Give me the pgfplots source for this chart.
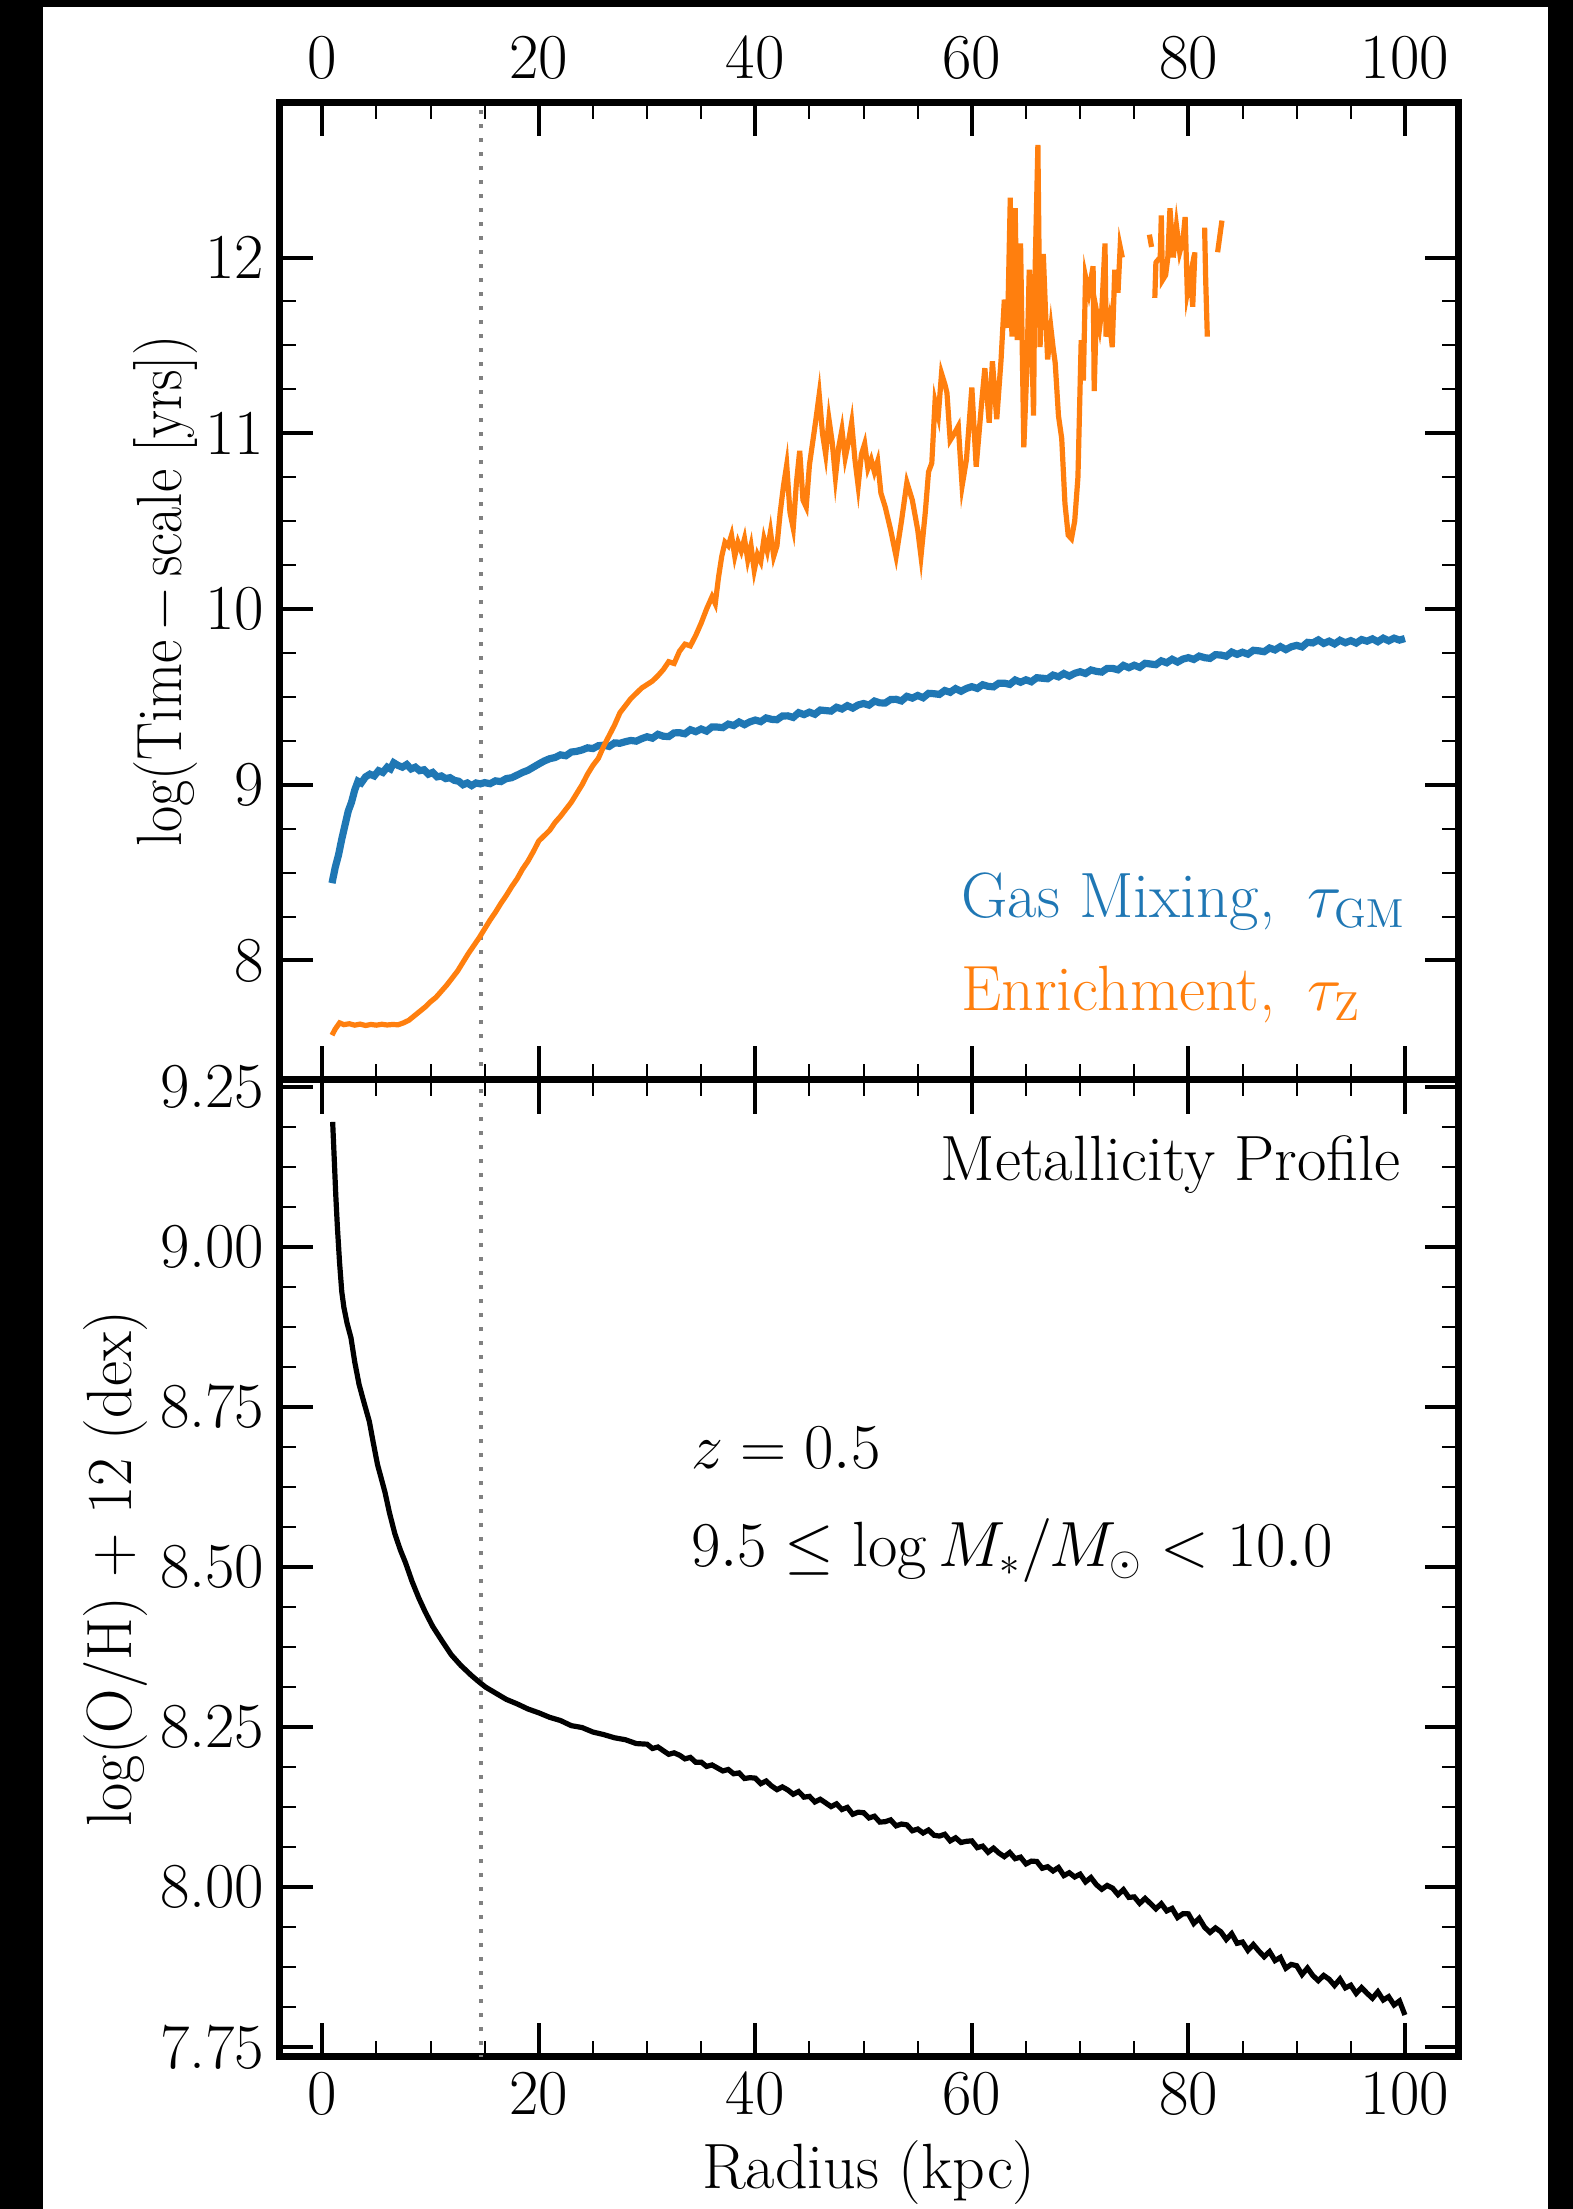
\documentclass[border=0pt]{standalone}
\usepackage{graphicx}
\usepackage{pgfplots}
\pgfplotsset{compat=1.18}
\definecolor{mplblue}{RGB}{31,119,180}
\definecolor{mplorange}{RGB}{255,127,14}

\pgfplotsset{
  panel/.style={
    scale only axis, width=294.75pt,
    xmin=-3.95, xmax=104.95,
    xtick={0,20,40,60,80,100}, minor x tick num=3,
    tick align=inside, xtick pos=both, ytick pos=both,
    major tick length=8.5pt, minor tick length=4.1pt,
    every major tick/.append style={line width=1pt, black},
    every minor tick/.append style={line width=0.5pt, black},
    axis line style={line width=1.75pt},
    font=\fontsize{16}{19.2}\selectfont,
    /pgf/number format/assume math mode=true,
    yticklabel style={inner sep=0pt, xshift=-3.6pt},
    unbounded coords=jump,
  },
  rline/.style={gray, line width=1pt, dash pattern=on 1pt off 2.5pt},
}

\begin{document}
\begin{tikzpicture}
% page background
\fill[black] (0,0) rectangle (393.25pt,552.25pt);
\fill[white] (10.75pt,0) rectangle (387pt,550.5pt);

% ---------------- time-scales ----------------
\begin{axis}[panel, at={(69.875pt,282.25pt)}, anchor=south west, height=244.375pt,
  ymin=7.32, ymax=12.882, ytick={8,9,10,11,12}, minor y tick num=3,
  xticklabel pos=upper, xticklabel style={inner sep=0pt, yshift=5.6pt},
  ylabel={\scalebox{0.89}[1]{log(Time\hspace{0.2em}−\hspace{0.2em}scale [yrs])}},
  every axis y label/.style={at={(axis description cs:-0.0963,0.5)}, rotate=90, anchor=center},
]
\addplot[rline] coordinates {(14.7,7.0) (14.7,13.2)};

% gas mixing time-scale
\addplot[mplblue, line width=1.8pt] coordinates {
(0.9,8.44)(1.2,8.53)(1.5,8.60)(1.8,8.69)(2.1,8.77)(2.4,8.85)(2.7,8.90)(3.0,8.97)(3.3,9.02)(3.6,9.01)
(4.0,9.045)(4.4,9.06)(4.8,9.05)(5.2,9.08)(5.6,9.07)(6.0,9.10)(6.3,9.09)(6.6,9.125)(7.0,9.11)(7.4,9.10)
(7.8,9.115)(8.2,9.09)(8.6,9.10)(9.0,9.08)(9.4,9.085)(9.8,9.06)(10.2,9.07)(10.6,9.045)(11.0,9.05)(11.4,9.035)
(11.8,9.04)(12.2,9.025)(12.6,9.02)(13.0,9.0)(13.4,9.01)(13.8,8.995)(14.2,9.01)(14.6,9.005)
(15.0,9.012)(15.5,9.006)(16.0,9.022)(16.5,9.018)(17.0,9.035)(17.5,9.04)(18.0,9.055)(18.5,9.07)(19.0,9.082)(19.5,9.10)
(20.0,9.118)(20.5,9.135)(21.0,9.148)(21.5,9.155)(22.0,9.17)(22.5,9.165)(23.0,9.186)(23.5,9.19)(24.0,9.198)(24.5,9.21)
(25.0,9.206)(25.5,9.222)(26.0,9.225)(26.5,9.218)(27.0,9.238)(27.5,9.236)(28.0,9.245)(28.5,9.252)(29.0,9.248)(29.5,9.262)
(30.0,9.273)(30.5,9.265)(31.0,9.287)(31.5,9.276)(32.0,9.274)(32.5,9.295)(33.0,9.296)(33.5,9.290)(34.0,9.313)(34.5,9.302)
(35.0,9.317)(35.5,9.305)(36.0,9.329)(36.5,9.328)(37.0,9.325)(37.5,9.345)(38.0,9.337)(38.5,9.357)(39.0,9.342)(39.5,9.358)
(40.0,9.368)(40.5,9.359)(41.0,9.380)(41.5,9.372)(42.0,9.370)(42.5,9.391)(43.0,9.392)(43.5,9.383)(44.0,9.410)(44.5,9.399)
(45.0,9.413)(45.5,9.401)(46.0,9.425)(46.5,9.422)(47.0,9.419)(47.5,9.441)(48.0,9.431)(48.5,9.450)(49.0,9.436)(49.5,9.454)
(50.0,9.462)(50.5,9.453)(51.0,9.476)(51.5,9.466)(52.0,9.465)(52.5,9.485)(53.0,9.486)(53.5,9.477)(54.0,9.503)(54.5,9.493)
(55.0,9.508)(55.5,9.495)(56.0,9.520)(56.5,9.518)(57.0,9.514)(57.5,9.536)(58.0,9.526)(58.5,9.547)(59.0,9.532)(59.5,9.548)
(60.0,9.558)(60.5,9.548)(61.0,9.569)(61.5,9.560)(62.0,9.557)(62.5,9.578)(63.0,9.578)(63.5,9.571)(64.0,9.596)(64.5,9.583)
(65.0,9.597)(65.5,9.586)(66.0,9.609)(66.5,9.606)(67.0,9.603)(67.5,9.624)(68.0,9.614)(68.5,9.633)(69.0,9.618)(69.5,9.634)
(70.0,9.643)(70.5,9.633)(71.0,9.653)(71.5,9.645)(72.0,9.641)(72.5,9.662)(73.0,9.662)(73.5,9.654)(74.0,9.679)(74.5,9.666)
(75.0,9.680)(75.5,9.668)(76.0,9.691)(76.5,9.687)(77.0,9.683)(77.5,9.705)(78.0,9.694)(78.5,9.714)(79.0,9.698)(79.5,9.715)
(80.0,9.723)(80.5,9.713)(81.0,9.732)(81.5,9.723)(82.0,9.719)(82.5,9.740)(83.0,9.738)(83.5,9.731)(84.0,9.755)(84.5,9.742)
(85.0,9.754)(85.5,9.743)(86.0,9.765)(86.5,9.762)(87.0,9.757)(87.5,9.778)(88.0,9.767)(88.5,9.786)(89.0,9.769)(89.5,9.785)
(90.0,9.793)(90.5,9.784)(91.0,9.810)(91.5,9.807)(92.0,9.824)(92.5,9.804)(93.0,9.817)(93.5,9.801)(94.0,9.822)(94.5,9.808)
(95.0,9.820)(95.5,9.806)(96.0,9.826)(96.5,9.817)(97.0,9.830)(97.5,9.814)(98.0,9.834)(98.5,9.819)(99.0,9.834)(99.5,9.823)
(100.0,9.832)
};

% enrichment time-scale (gaps where undefined)
\addplot[mplorange, line width=1.3pt] coordinates {
(0.9,7.575)(1.2,7.61)(1.6,7.645)(2.0,7.635)(2.5,7.64)(3.0,7.632)(3.5,7.638)(4.0,7.63)(4.5,7.636)(5.0,7.632)
(5.5,7.637)(6.0,7.633)(6.5,7.636)(7.0,7.634)(7.5,7.645)(8.0,7.66)(8.5,7.685)(9.0,7.71)(9.5,7.735)(10.0,7.765)
(10.5,7.79)(11.0,7.825)(11.5,7.86)(12.0,7.90)(12.5,7.94)(13.0,7.99)(13.5,8.04)(14.0,8.085)(14.5,8.13)(15.0,8.18)
(15.5,8.23)(16.0,8.275)(16.5,8.325)(17.0,8.37)(17.5,8.42)(18.0,8.465)(18.5,8.52)(19.0,8.565)(19.5,8.62)(20.0,8.68)
(20.5,8.71)(21.0,8.74)(21.5,8.785)(22.0,8.82)(22.5,8.86)(23.0,8.90)(23.5,8.95)(24.0,9.00)(24.5,9.06)(25.0,9.11)
(25.5,9.15)(26.0,9.22)(26.5,9.28)(27.0,9.34)(27.5,9.41)(28.0,9.45)(28.5,9.49)(29.0,9.52)(29.5,9.55)(30.0,9.57)
(30.5,9.59)(31.0,9.62)(31.5,9.655)(32.0,9.70)(32.5,9.69)(33.0,9.76)(33.5,9.80)(34.0,9.79)(34.5,9.85)(35.0,9.92)
(35.5,10.0)(36.0,10.07)(36.3,10.03)(36.6,10.18)(36.9,10.30)(37.2,10.38)(37.5,10.36)(37.8,10.42)(38.1,10.30)(38.4,10.38)
(38.7,10.33)(39.0,10.40)(39.3,10.28)(39.6,10.36)(39.9,10.22)(40.2,10.31)(40.5,10.27)(40.8,10.40)(41.1,10.33)(41.4,10.44)
(41.7,10.30)(42.0,10.36)(42.3,10.55)(42.6,10.70)(42.9,10.82)(43.2,10.55)(43.5,10.46)(43.8,10.72)(44.1,10.90)(44.4,10.62)
(44.7,10.58)(45.0,10.82)(45.3,10.95)(45.6,11.08)(45.9,11.22)(46.2,11.0)(46.5,10.88)(46.8,11.08)(47.1,10.95)(47.4,10.75)
(47.7,10.92)(48.0,11.02)(48.3,10.86)(48.6,10.95)(48.9,11.06)(49.2,10.85)(49.5,10.70)(49.8,10.88)(50.1,10.94)(50.4,10.80)
(50.7,10.85)(51.0,10.78)(51.3,10.84)(51.6,10.66)(52.0,10.58)(52.5,10.45)(53.0,10.30)(53.5,10.50)(54.0,10.72)(54.5,10.62)
(55.0,10.45)(55.3,10.30)(55.7,10.55)(56.0,10.78)(56.3,10.83)(56.6,11.18)(56.9,11.10)(57.2,11.34)(57.5,11.28)(57.7,11.23)
(58.0,10.96)(58.4,11.00)(58.75,11.04)(59.1,10.70)(59.5,10.85)(60.0,11.26)(60.4,10.81)(60.9,11.17)(61.2,11.37)(61.6,11.06)
(61.9,11.41)(62.3,11.08)(62.7,11.42)(63.0,11.76)(63.3,11.60)(63.55,12.34)(63.7,11.55)(64.0,12.28)(64.2,11.53)(64.5,12.08)
(64.8,10.92)(65.1,11.40)(65.3,11.93)(65.5,11.60)(65.7,11.10)(65.8,11.81)(66.1,12.64)(66.3,11.49)(66.6,12.02)(66.8,11.70)
(67.0,11.42)(67.3,11.60)(67.5,11.49)(67.7,11.40)(68.0,11.10)(68.3,10.97)(68.6,10.60)(68.9,10.42)(69.2,10.40)(69.5,10.50)
(69.8,10.75)(70.1,11.53)(70.3,11.30)(70.5,11.89)(70.8,11.80)(71.2,11.95)(71.3,11.24)(71.5,11.70)(71.8,11.60)(72.0,11.70)
(72.3,12.08)(72.4,11.55)(72.7,11.65)(72.97,11.49)(73.2,11.93)(73.5,11.80)(73.7,12.06)(73.9,12.00)
(75.0,nan)
(76.4,12.13)(76.6,12.06)
(76.75,nan)
(76.9,11.77)(77.0,11.97)(77.1,11.98)(77.4,12.0)(77.5,12.24)(77.6,11.87)(77.9,11.9)(78.1,12.0)(78.3,12.28)(78.6,12.0)
(78.9,12.18)(79.2,12.03)(79.5,12.1)(79.7,12.23)(79.9,11.80)(80.2,11.9)(80.4,11.72)(80.6,12.03)
(81.0,nan)
(81.5,12.17)(81.6,11.87)(81.75,11.55)
(82.2,nan)
(82.7,12.03)(83.1,12.21)
};

\node[anchor=base west, inner sep=0pt, text=mplblue] at (axis cs:58.96,8.242) {Gas Mixing,\enspace\scalebox{0.925}{$\tau_{\mathrm{GM}}$}};
\node[anchor=base west, inner sep=0pt, text=mplorange] at (axis cs:58.96,7.713) {Enrichment,\enspace\scalebox{0.925}{$\tau_{\mathrm{Z}}$}};
\end{axis}

% ---------------- metallicity profile ----------------
\begin{axis}[panel, at={(69.875pt,38pt)}, anchor=south west, height=244.25pt,
  ymin=7.7344, ymax=9.2605, ytick={7.75,8.00,8.25,8.50,8.75,9.00,9.25}, minor y tick num=3,
  xticklabel pos=lower, xticklabel style={inner sep=0pt, yshift=-3.5pt},
  xlabel={Radius (kpc)},
  every axis x label/.style={at={(axis description cs:0.5,-0.1342)}, anchor=base},
  ylabel={\scalebox{0.96}[1]{log(O/H) + 12 (dex)}},
  every axis y label/.style={at={(axis description cs:-0.1395,0.5)}, rotate=90, anchor=center},
  yticklabel style={/pgf/number format/.cd, fixed, fixed zerofill, precision=2},
]
\addplot[rline] coordinates {(14.7,7.6) (14.7,9.4)};

\addplot[black, line width=1.3pt] coordinates {
(0.96,9.195)(1.1,9.14)(1.25,9.08)(1.4,9.03)(1.6,8.975)(1.8,8.93)(2.0,8.905)(2.3,8.88)(2.65,8.858)(3.0,8.82)
(3.4,8.785)(3.8,8.76)(4.35,8.727)(4.7,8.695)(5.1,8.66)(5.5,8.635)(5.8,8.616)(6.2,8.585)(6.7,8.552)(7.2,8.527)
(7.7,8.506)(8.3,8.477)(8.9,8.452)(9.5,8.43)(10.2,8.407)(11.0,8.386)(11.9,8.363)(12.8,8.346)(13.8,8.33)(14.5,8.32)
(15.1,8.312)(16,8.303)(17,8.293)(18,8.286)(19,8.278)(20,8.272)(21,8.265)(22,8.26)(23,8.252)(24,8.249)
(25,8.242)(26,8.238)(27,8.233)(28,8.23)(29,8.224)
(30.0,8.2230)(30.5,8.2163)(31.0,8.2186)(31.5,8.2129)(32.0,8.2072)(32.5,8.2095)(33.0,8.2058)(33.5,8.2001)(34.0,8.2024)(34.5,8.1947)
(35.0,8.1950)(35.5,8.1883)(36.0,8.1906)(36.5,8.1859)(37.0,8.1812)(37.5,8.1835)(38.0,8.1768)(38.5,8.1781)(39.0,8.1694)(39.5,8.1707)
(40.0,8.1700)(40.5,8.1613)(41.0,8.1655)(41.5,8.1578)(42.0,8.1520)(42.5,8.1563)(43.0,8.1515)(43.5,8.1448)(44.0,8.1490)(44.5,8.1403)
(45.0,8.1415)(45.5,8.1328)(46.0,8.1370)(46.5,8.1313)(47.0,8.1255)(47.5,8.1298)(48.0,8.1210)(48.5,8.1243)(49.0,8.1135)(49.5,8.1168)
(50.0,8.1160)(50.5,8.1078)(51.0,8.1105)(51.5,8.1013)(52.0,8.1020)(52.5,8.1048)(53.0,8.0955)(53.5,8.0983)(54.0,8.0970)(54.5,8.0878)
(55.0,8.0905)(55.5,8.0843)(56.0,8.0890)(56.5,8.0808)(57.0,8.0795)(57.5,8.0823)(58.0,8.0720)(58.5,8.0768)(59.0,8.0695)(59.5,8.0713)
(60.0,8.0720)(60.5,8.0614)(61.0,8.0638)(61.5,8.0542)(62.0,8.0606)(62.5,8.0530)(63.0,8.0474)(63.5,8.0538)(64.0,8.0442)(64.5,8.0466)
(65.0,8.0360)(65.5,8.0404)(66.0,8.0398)(66.5,8.0292)(67.0,8.0316)(67.5,8.0250)(68.0,8.0304)(68.5,8.0178)(69.0,8.0222)(69.5,8.0156)
(70.0,8.0200)(70.5,8.0079)(71.0,8.0147)(71.5,8.0036)(72.0,7.9964)(72.5,8.0023)(73.0,7.9981)(73.5,7.9880)(74.0,7.9958)(74.5,7.9837)
(75.0,7.9845)(75.5,7.9744)(76.0,7.9822)(76.5,7.9741)(77.0,7.9659)(77.5,7.9738)(78.0,7.9626)(78.5,7.9665)(79.0,7.9523)(79.5,7.9582)
(80.0,7.9580)(80.5,7.9430)(81.0,7.9510)(81.5,7.9370)(82.0,7.9290)(82.5,7.9360)(83.0,7.9300)(83.5,7.9180)(84.0,7.9270)(84.5,7.9120)
(85.0,7.9140)(85.5,7.9010)(86.0,7.9100)(86.5,7.9000)(87.0,7.8910)(87.5,7.8990)(88.0,7.8850)(88.5,7.8900)(89.0,7.8730)(89.5,7.8790)
(90.0,7.8770)(90.5,7.8632)(91.0,7.8733)(91.5,7.8615)(92.0,7.8536)(92.5,7.8618)(93.0,7.8559)(93.5,7.8461)(94.0,7.8562)(94.5,7.8424)
(95.0,7.8465)(95.5,7.8337)(96.0,7.8428)(96.5,7.8340)(97.0,7.8261)(97.5,7.8363)(98.0,7.8234)(98.5,7.8286)(99.0,7.8157)(99.5,7.8219)
(100.0,7.8000)
};

\node[anchor=base east, inner sep=0pt] at (axis cs:99.7,9.104) {Metallicity Profile};
\node[anchor=base west, inner sep=0pt] at (axis cs:34.0,8.653) {\scalebox{0.925}{$z=0.5$}};
\node[anchor=base west, inner sep=0pt] at (axis cs:34.0,8.501) {\scalebox{0.925}{$9.5\leq\log M_{*}/M_{\odot}<10.0$}};
\end{axis}

\pgfresetboundingbox
\useasboundingbox (0,0) rectangle (393.25pt,552.25pt);
\end{tikzpicture}
\end{document}
